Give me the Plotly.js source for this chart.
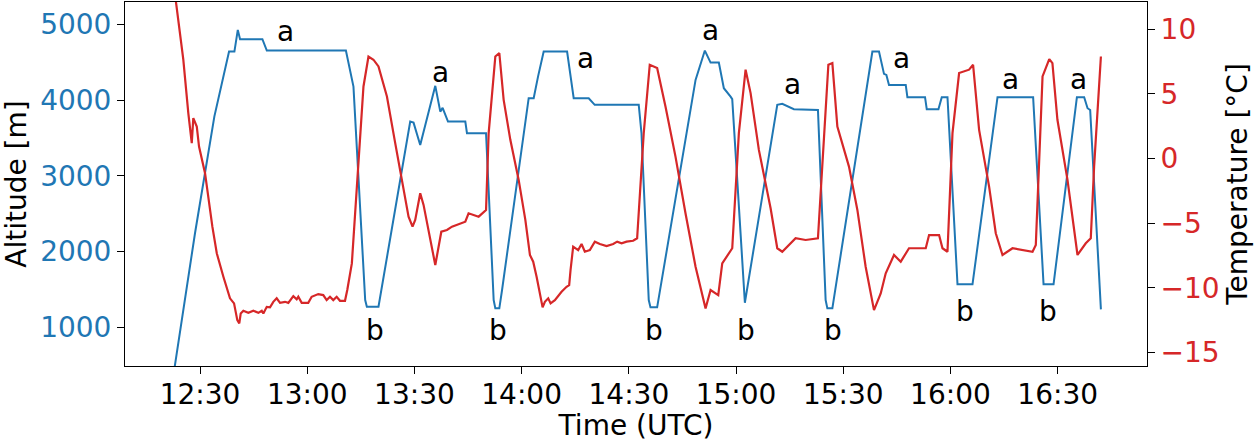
<!DOCTYPE html>
<html>
<head>
<meta charset="utf-8">
<script src="https://cdn.plot.ly/plotly-3.0.1.min.js"></script>
<style>
  html, body { margin: 0; padding: 0; background: #fff; }
  #chart { width: 1257px; height: 442px; }
</style>
</head>
<body>
<div id="chart"></div>
<script>
// flight day, all times UTC
const day = '2023-01-01 ';

// altitude track (blue, left axis)
const altTime = [
  '12:22:45', '12:28:36', '12:34:00', '12:38:07', '12:39:37', '12:40:34', '12:41:12', '12:47:27',
  '12:48:41', '13:10:49', '13:12:56', '13:16:13', '13:16:41', '13:19:56', '13:28:49', '13:29:45',
  '13:31:37', '13:35:50', '13:37:14', '13:37:53', '13:39:23', '13:44:14', '13:44:42', '13:50:02',
  '13:52:10', '13:52:38', '13:53:45', '13:54:31', '14:01:58', '14:03:22', '14:04:35', '14:06:10',
  '14:12:43', '14:14:34', '14:18:46', '14:20:27', '14:32:46', '14:33:32', '14:35:34', '14:36:03',
  '14:37:55', '14:48:40', '14:51:16', '14:52:52', '14:55:11', '14:56:35', '14:58:28', '14:58:56',
  '15:02:28', '15:11:32', '15:12:56', '15:15:16', '15:16:11', '15:22:55', '15:25:04', '15:25:33',
  '15:26:57', '15:38:09', '15:40:00', '15:41:24', '15:42:04', '15:42:48', '15:47:29', '15:47:57',
  '15:52:53', '15:53:22', '15:56:38', '15:57:34', '15:59:10', '16:01:58', '16:06:10', '16:13:10',
  '16:23:08', '16:26:03', '16:28:51', '16:35:23', '16:37:25', '16:38:22', '16:39:06', '16:42:06'
];
const altitude = [
  430, 2246, 3782, 4641, 4641, 4927, 4804, 4804,
  4654, 4654, 4178, 1361, 1272, 1272, 3716, 3703,
  3408, 4188, 3848, 3897, 3716, 3716, 3563, 3563,
  1361, 1251, 1251, 1493, 4025, 4025, 4310, 4641,
  4641, 4025, 4025, 3937, 3937, 3563, 1361, 1264,
  1264, 4267, 4654, 4495, 4495, 4157, 4046, 4012,
  1325, 3937, 3950, 3893, 3880, 3870, 1361, 1251,
  1251, 4641, 4641, 4346, 4333, 4201, 4201, 4038,
  4038, 3880, 3880, 4038, 4038, 1568, 1568, 4038,
  4038, 1568, 1568, 4038, 4038, 3893, 3870, 1238
];

// temperature track (red, right axis)
const tempTime = [
  '12:23:00', '12:24:24', '12:25:19', '12:26:43', '12:27:41', '12:28:07', '12:29:05', '12:29:43',
  '12:31:24', '12:33:27', '12:34:41', '12:36:32', '12:37:56', '12:38:23', '12:39:31', '12:40:26',
  '12:40:59', '12:41:23', '12:42:07', '12:43:31', '12:44:55', '12:46:19', '12:47:16', '12:47:43',
  '12:48:40', '12:49:35', '12:50:30', '12:51:27', '12:52:23', '12:53:47', '12:54:42', '12:56:06',
  '12:57:03', '12:57:30', '12:58:27', '13:00:17', '13:01:14', '13:03:05', '13:04:29', '13:05:26',
  '13:06:22', '13:07:17', '13:08:14', '13:09:10', '13:10:34', '13:11:12', '13:12:29', '13:14:20',
  '13:15:44', '13:17:08', '13:18:32', '13:19:56', '13:22:18', '13:24:37', '13:26:30', '13:28:21',
  '13:29:28', '13:30:13', '13:31:37', '13:32:33', '13:35:50', '13:37:31', '13:39:06', '13:40:30',
  '13:44:14', '13:45:09', '13:47:58', '13:50:02', '13:50:46', '13:52:38', '13:53:45', '13:54:58',
  '13:56:50', '13:59:10', '14:01:02', '14:02:19', '14:03:14', '14:04:11', '14:05:52', '14:06:30',
  '14:07:26', '14:08:06', '14:09:18', '14:11:10', '14:12:34', '14:13:18', '14:13:41', '14:14:25',
  '14:15:49', '14:16:46', '14:17:41', '14:19:05', '14:20:29', '14:21:53', '14:23:46', '14:25:37',
  '14:26:44', '14:27:58', '14:29:22', '14:31:12', '14:32:19', '14:34:10', '14:35:51', '14:37:55',
  '14:40:15', '14:43:03', '14:45:51', '14:48:40', '14:51:28', '14:52:52', '14:55:01', '14:56:08',
  '14:58:56', '15:00:47', '15:02:40', '15:04:04', '15:06:23', '15:09:40', '15:11:32', '15:12:56',
  '15:16:40', '15:19:28', '15:22:55', '15:24:35', '15:25:50', '15:26:57', '15:28:21', '15:31:36',
  '15:33:57', '15:36:16', '15:38:36', '15:40:29', '15:41:53', '15:44:12', '15:46:05', '15:48:24',
  '15:53:05', '15:54:01', '15:56:49', '15:57:46', '15:59:10', '16:00:34', '16:02:25', '16:05:13',
  '16:06:20', '16:08:01', '16:10:49', '16:12:41', '16:14:34', '16:17:22', '16:22:58', '16:23:53',
  '16:25:46', '16:27:39', '16:28:32', '16:29:56', '16:32:45', '16:35:33', '16:37:52', '16:39:16',
  '16:40:12', '16:42:06'
];
const temperature = [
  12.67, 9.71, 7.64, 3.51, 1.19, 3.13, 2.48, 0.93,
  -1.13, -5.26, -7.32, -9.13, -10.42, -10.80, -11.19, -12.49,
  -12.74, -11.97, -11.76, -11.92, -11.76, -11.92, -11.76, -11.97,
  -11.46, -11.50, -11.07, -10.80, -11.15, -11.07, -11.15, -10.63,
  -10.88, -10.68, -11.15, -11.15, -10.68, -10.47, -10.55, -10.94,
  -10.68, -10.94, -10.68, -10.99, -10.99, -10.16, -8.10, -0.62,
  5.57, 7.89, 7.64, 7.12, 4.80, 1.19, -1.65, -4.49,
  -5.26, -4.74, -2.68, -3.58, -8.23, -5.65, -5.52, -5.26,
  -4.88, -4.23, -4.49, -3.97, 1.97, 7.89, 8.16, 4.54,
  1.45, -1.65, -4.74, -7.45, -7.97, -9.13, -11.50, -11.07,
  -10.80, -11.19, -10.94, -10.29, -9.91, -9.78, -8.61, -6.81,
  -7.07, -6.60, -7.20, -7.07, -6.42, -6.60, -6.76, -6.60,
  -6.42, -6.55, -6.42, -6.35, -6.16, 1.97, 7.25, 7.00,
  4.02, 0.15, -4.23, -8.36, -11.58, -10.16, -10.55, -8.10,
  -6.93, 1.97, 6.87, 5.06, 0.67, -3.84, -6.93, -7.20,
  -6.16, -6.29, -6.16, 1.45, 7.25, 7.38, 2.48, -0.62,
  -3.97, -8.36, -11.71, -10.42, -8.87, -7.45, -7.97, -6.93,
  -6.93, -5.91, -5.91, -6.93, -7.20, 1.97, 6.61, 6.87,
  7.25, 2.22, -2.17, -5.77, -7.45, -6.93, -7.20, -6.68,
  6.35, 7.69, 7.38, 3.00, -1.65, -7.45, -6.55, -6.16,
  -0.62, 7.89
];

// a / b markers along the altitude track
const labelText = ['a', 'a', 'a', 'a', 'a', 'a', 'a', 'a', 'b', 'b', 'b', 'b', 'b', 'b', 'b'];
const labelTime = [
  '12:54:00', '13:37:14', '14:17:50', '14:52:52', '15:15:44', '15:46:16', '16:16:41', '16:35:51',
  '13:19:01', '13:53:20', '14:37:10', '15:02:52', '15:27:07', '16:04:01', '16:27:10'
];
const labelAlt = [4905, 4363, 4553, 4918, 4201, 4553, 4276, 4276, 964, 964, 964, 964, 964, 1206, 1206];

const blue = '#1f77b4';
const red = '#d62728';
const font = 'DejaVu Sans, sans-serif';
const fs = 28;

const traces = [
  {
    x: altTime.map(t => day + t), y: altitude,
    mode: 'lines', line: {color: blue, width: 2}, yaxis: 'y', hoverinfo: 'skip'
  },
  {
    x: tempTime.map(t => day + t), y: temperature,
    mode: 'lines', line: {color: red, width: 2.2}, yaxis: 'y2', hoverinfo: 'skip'
  }
];

const annotations = labelText.map((txt, i) => ({
  x: day + labelTime[i], y: labelAlt[i], xref: 'x', yref: 'y',
  text: txt, showarrow: false, font: {size: fs, color: '#000', family: font}
}));

const layout = {
  width: 1257, height: 442,
  margin: {l: 125, r: 110, t: 2, b: 76},
  paper_bgcolor: '#fff', plot_bgcolor: '#fff',
  showlegend: false,
  font: {family: font, size: fs, color: '#000'},
  xaxis: {
    type: 'date',
    range: [day + '12:09:00', day + '16:55:00'],
    tick0: day + '12:00:00', dtick: 1800000, tickformat: '%H:%M',
    ticks: 'outside', ticklen: 7, tickwidth: 1, tickcolor: '#000',
    ticklabelstandoff: -4,
    showline: true, linecolor: '#000', linewidth: 1, mirror: true,
    showgrid: false, zeroline: false,
    tickfont: {size: fs, color: '#000'},
    title: {text: 'Time (UTC)', font: {size: fs, color: '#000'}, standoff: 0}
  },
  yaxis: {
    range: [490, 5295],
    tickvals: [1000, 2000, 3000, 4000, 5000],
    ticks: 'outside', ticklen: 7, tickwidth: 1, tickcolor: '#000',
    showline: true, linecolor: '#000', linewidth: 1,
    showgrid: false, zeroline: false,
    tickfont: {size: fs, color: blue},
    title: {text: 'Altitude [m]', font: {size: fs, color: '#000'}, standoff: 8}
  },
  yaxis2: {
    overlaying: 'y', side: 'right',
    range: [-16.03, 12.1],
    tickvals: [-15, -10, -5, 0, 5, 10],
    ticktext: ['\u221215', '\u221210', '\u22125', '0', '5', '10'],
    ticks: 'outside', ticklen: 7, tickwidth: 1, tickcolor: '#000',
    showline: true, linecolor: '#000', linewidth: 1,
    showgrid: false, zeroline: false,
    tickfont: {size: fs, color: red},
    title: {text: 'Temperature [°C]', font: {size: fs, color: '#000'}, standoff: 8}
  },
  annotations: annotations
};

Plotly.newPlot('chart', traces, layout, {staticPlot: true, displayModeBar: false});
</script>
</body>
</html>
